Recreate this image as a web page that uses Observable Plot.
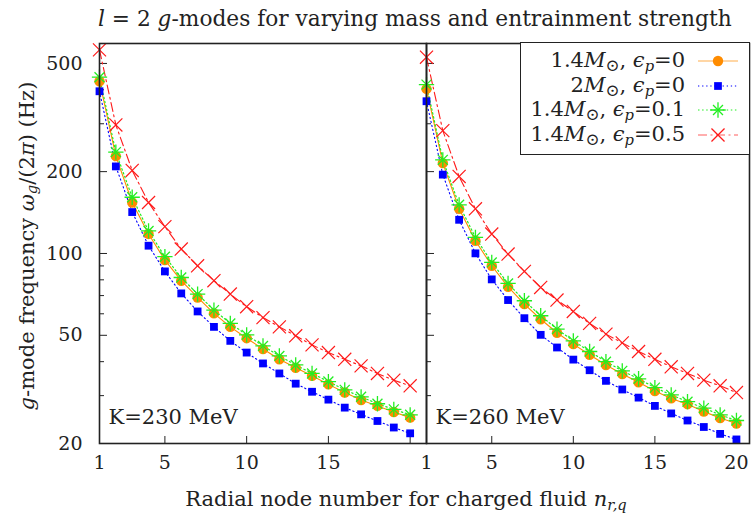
<!DOCTYPE html>
<html>
<head>
<meta charset="utf-8">
<script src="https://cdn.jsdelivr.net/npm/d3@7"></script>
<script src="https://cdn.jsdelivr.net/npm/@observablehq/plot@0.6"></script>
<style>
  html, body { margin: 0; padding: 0; background: white; }
  #fig { position: relative; width: 751px; height: 514px; font-family: "DejaVu Serif", serif; color: #222; overflow: hidden; }
  #fig .abs { position: absolute; white-space: nowrap; line-height: 1; }
  #title { left: 98px; top: 8px; font-size: 21.7px; }
  #xlabel { left: 406px; top: 489px; font-size: 21px; transform: translateX(-50%); }
  #ylabel { left: 27px; top: 246px; font-size: 21px; transform: translate(-50%, -50%) rotate(-90deg); }
  #legend { left: 520px; top: 42px; width: 228px; height: 111px; border: 1.5px solid #222; background: white; }
  .lrow { position: absolute; right: 64px; font-size: 21px; line-height: 1; }
  .lsw { position: absolute; left: 177px; }
  sub { font-size: 70%; vertical-align: -0.25em; line-height: 0; }
  .sun { font-size: 80%; }
</style>
</head>
<body>
<div id="fig">
  <div class="abs" id="title"><i>l</i> = 2 <i>g</i>-modes for varying mass and entrainment strength</div>
  <div class="abs" id="ylabel"><i>g</i>-mode frequency <i>ω<sub>g</sub></i>/(2<i>π</i>) (Hz)</div>
  <div class="abs" id="xlabel">Radial node number for charged fluid <i>n<sub>r,q</sub></i></div>
</div>
<script>
// Radial node number
const nodes = [1, 2, 3, 4, 5, 6, 7, 8, 9, 10, 11, 12, 13, 14, 15, 16, 17, 18, 19, 20];

// K = 230 MeV, frequencies in Hz
const k230_m14_e0  = [430, 228, 154, 118, 94.5, 79.4, 68.9, 60.2, 53.7, 48.8, 44.5, 40.8, 38.0, 35.5, 33.0, 30.8, 28.9, 27.5, 26.1, 24.9];
const k230_m2_e0   = [395, 209, 142, 106.8, 85.9, 71.3, 61.2, 53.7, 47.7, 43.2, 39.4, 36.2, 33.2, 31.0, 29.0, 27.1, 25.6, 24.2, 22.9, 21.8];
const k230_m14_e01 = [445, 236, 161, 121, 97.3, 81.6, 70.9, 61.9, 55.3, 50.2, 45.7, 42.0, 38.9, 36.2, 33.8, 31.5, 29.7, 28.0, 26.7, 25.5];
const k230_m14_e05 = [561, 297, 202, 154, 125.5, 103.8, 90.1, 79.4, 70.9, 63.7, 58.1, 53.7, 49.8, 46.1, 43.2, 40.8, 38.6, 36.2, 34.2, 32.6];

// K = 260 MeV, frequencies in Hz
const k260_m14_e0  = [403, 215, 146, 111.4, 90.1, 75.4, 65.1, 57.3, 51.1, 46.4, 42.4, 38.9, 36.0, 33.6, 31.2, 29.3, 27.9, 26.2, 24.8, 23.7];
const k260_m2_e0   = [363, 195, 133, 100.1, 80.3, 67.4, 57.8, 50.2, 45.1, 40.7, 37.2, 34.0, 31.6, 29.5, 27.5, 25.8, 24.3, 23.0, 21.7, 20.7];
const k260_m14_e01 = [418, 221, 151, 114.6, 92.7, 77.6, 67.0, 59.0, 52.7, 47.7, 43.6, 40.0, 37.0, 34.6, 32.1, 30.2, 28.5, 27.0, 25.5, 24.3];
const k260_m14_e05 = [527, 283, 192, 146, 117.9, 99.5, 85.9, 75.0, 67.4, 61.2, 55.3, 50.5, 46.9, 43.6, 40.8, 38.3, 36.2, 34.2, 32.6, 30.8];

// Series labels (HTML) in legend order
const seriesLabels = [
  "1.4<i>M</i><sub class=\"sun\">⊙</sub>, <i>ϵ<sub>p</sub></i>=0",
  "2<i>M</i><sub class=\"sun\">⊙</sub>, <i>ϵ<sub>p</sub></i>=0",
  "1.4<i>M</i><sub class=\"sun\">⊙</sub>, <i>ϵ<sub>p</sub></i>=0.1",
  "1.4<i>M</i><sub class=\"sun\">⊙</sub>, <i>ϵ<sub>p</sub></i>=0.5"
];
const panelLabels = ["K=230 MeV", "K=260 MeV"];

// Axis ticks
const yMajor = [20, 50, 100, 200, 500];
const yMinor = [30, 40, 60, 70, 80, 90, 300, 400];
const xTicks = [5, 10, 15, 20];
const xLabelsLeft = [1, 5, 10, 15];
const xLabelsRight = [1, 5, 10, 15, 20];

const styles = [
  {color: "#ff8c00", dash: null, width: 1.1},
  {color: "#0000ff", dash: "1.3,2.8", width: 1.1},
  {color: "#22ee22", dash: "1.5,2.6", width: 1.2},
  {color: "#ff1a1a", dash: "9,3.5,2,3.5", width: 1.1}
];

const FONT = '"DejaVu Serif", serif';
const FS = 19;
const H = 480, MT = 43, MB = 37;
const yDomain = [20, 592];

function panel({series, xmax, width, marginLeft, marginRight, xLabels, yLabels, klabel}) {
  const rows = series.map((vals) => vals.map((f, i) => ({n: nodes[i], f})));
  const pw = width - marginLeft - marginRight;
  const ph = H - MT - MB;
  const [orange, blue, green, red] = rows;
  const lineOf = (d, s) => Plot.line(d, {x: "n", y: "f", stroke: styles[s].color, strokeWidth: styles[s].width, strokeDasharray: styles[s].dash});
  const marks = [
    // inward ticks
    Plot.tickY(yMajor, {y: (d) => d, insetRight: pw - 8, stroke: "#222", strokeWidth: 1}),
    Plot.tickY(yMinor, {y: (d) => d, insetRight: pw - 5, stroke: "#222", strokeWidth: 1}),
    Plot.tickX(xTicks, {x: (d) => d, insetTop: ph - 7, stroke: "#222", strokeWidth: 1}),
    Plot.axisX({ticks: xLabels, tickSize: 0, tickPadding: 12, tickFormat: (d) => String(d), label: null, fill: "#222"}),
    yLabels
      ? Plot.axisY({ticks: yMajor, tickSize: 0, tickPadding: 17, tickFormat: (d) => String(d), label: null, fill: "#222"})
      : Plot.axisY({ticks: [], label: null}),
    // series: lines then markers
    lineOf(orange, 0),
    lineOf(blue, 1),
    lineOf(green, 2),
    lineOf(red, 3),
    Plot.dot(orange, {x: "n", y: "f", r: 5.2, fill: styles[0].color, symbol: "circle"}),
    Plot.dot(blue, {x: "n", y: "f", r: 4.4, fill: styles[1].color, symbol: "square"}),
    Plot.dot(green, {x: "n", y: "f", r: 5, stroke: styles[2].color, strokeWidth: 1.3, symbol: "plus"}),
    Plot.dot(green, {x: "n", y: "f", r: 4.6, stroke: styles[2].color, strokeWidth: 1.3, symbol: "times"}),
    Plot.dot(red, {x: "n", y: "f", r: 6, stroke: styles[3].color, strokeWidth: 1.2, symbol: "times"}),
    Plot.text([klabel], {frameAnchor: "bottom-left", dx: 9, dy: -20, text: (d) => d, fontSize: 21, fill: "#222", textAnchor: "start", lineAnchor: "bottom"}),
    Plot.frame({stroke: "#222", strokeWidth: 1.6})
  ];
  return Plot.plot({
    width, height: H, marginLeft, marginRight, marginTop: MT, marginBottom: MB,
    x: {domain: [1, xmax]},
    y: {type: "log", domain: yDomain},
    style: {background: "transparent", overflow: "visible", fontFamily: FONT, fontSize: FS + "px", color: "#222"},
    marks
  });
}

const fig = document.getElementById("fig");

const left = panel({
  series: [k230_m14_e0, k230_m2_e0, k230_m14_e01, k230_m14_e05],
  xmax: 21, width: 427, marginLeft: 99, marginRight: 1,
  xLabels: xLabelsLeft, yLabels: true, klabel: panelLabels[0]
});
left.style.position = "absolute"; left.style.left = "0px"; left.style.top = "0px";
fig.appendChild(left);

const right = panel({
  series: [k260_m14_e0, k260_m2_e0, k260_m14_e01, k260_m14_e05],
  xmax: 20.8, width: 326, marginLeft: 1, marginRight: 2,
  xLabels: xLabelsRight, yLabels: false, klabel: panelLabels[1]
});
right.style.position = "absolute"; right.style.left = "425px"; right.style.top = "0px";
fig.appendChild(right);

// Legend box
const legend = document.createElement("div");
legend.className = "abs"; legend.id = "legend";
const symbols = [
  [d3.symbolCircle], [d3.symbolSquare], [d3.symbolPlus, d3.symbolTimes], [d3.symbolTimes]
];
const symSizes = [[85], [60], [80, 66], [113]];
seriesLabels.forEach((lab, i) => {
  const cy = 18 + i * 24.7;
  const t = document.createElement("div");
  t.className = "lrow";
  t.style.top = (cy - 11) + "px";
  t.innerHTML = lab;
  legend.appendChild(t);
  const svg = d3.create("svg").attr("width", 40).attr("height", 20).attr("class", "lsw")
    .style("top", (cy - 10) + "px").style("overflow", "visible");
  const st = styles[i];
  svg.append("line").attr("x1", 0).attr("x2", 40).attr("y1", 10).attr("y2", 10)
    .attr("stroke", st.color).attr("stroke-width", st.width)
    .attr("stroke-dasharray", st.dash)
    .attr("stroke-opacity", i === 0 || i === 3 ? 0.7 : 1);
  symbols[i].forEach((sym, j) => {
    const filled = i < 2;
    svg.append("path").attr("transform", "translate(20,10)")
      .attr("d", d3.symbol(sym, symSizes[i][j])())
      .attr("fill", filled ? st.color : "none")
      .attr("stroke", filled ? "none" : st.color)
      .attr("stroke-width", 1.3);
  });
  legend.appendChild(svg.node());
});
fig.appendChild(legend);
</script>
</body>
</html>
